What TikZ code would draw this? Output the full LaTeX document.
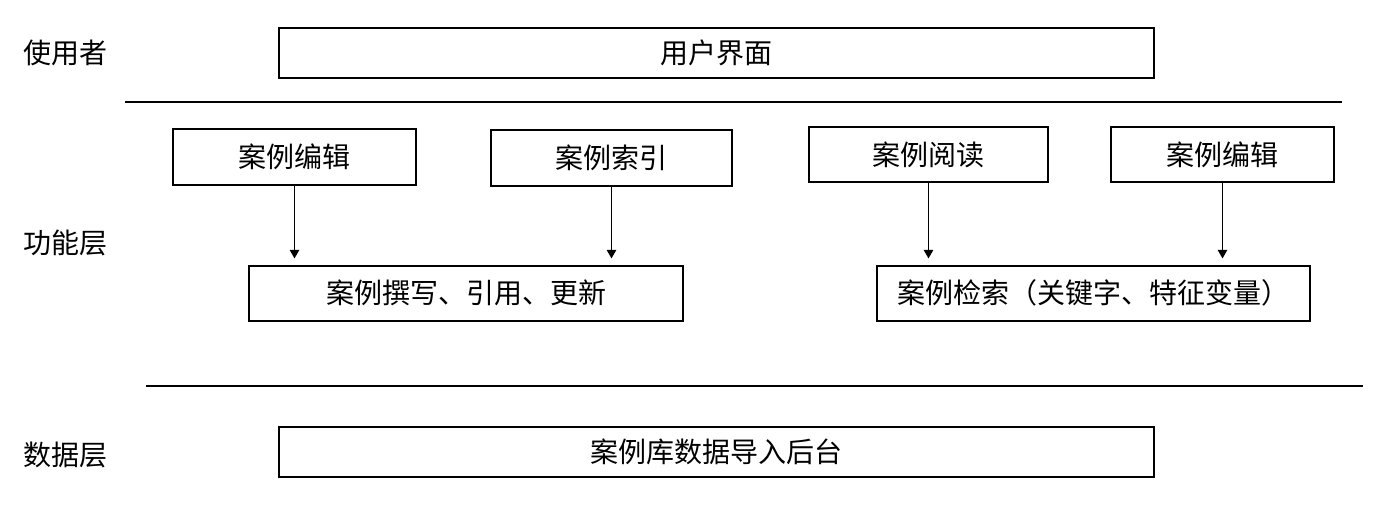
\documentclass[tikz,border=0pt]{standalone}
\usepackage{fontspec}
\setmainfont{Noto Sans CJK SC}
\usetikzlibrary{arrows.meta}
\begin{document}
\begin{tikzpicture}[x=0.75pt,y=-0.75pt,
  box/.style={draw=black,line width=1.5pt,inner sep=0pt,anchor=center,font=\fontsize{21}{25}\selectfont},
  lbl/.style={inner sep=0pt,anchor=west,font=\fontsize{21}{25}\selectfont},
  sep/.style={line width=1.5pt},
  arr/.style={line width=1.4pt,-{Triangle[length=6.5pt,width=7pt]},shorten >=4.5pt}]
\useasboundingbox (0,0) rectangle (1397,517);
\node[lbl] (l1) at (23,53) {使用者};
\node[lbl] (l2) at (23,243) {功能层};
\node[lbl] (l3) at (23,455) {数据层};
\node[box,minimum width=875*0.75pt,minimum height=50*0.75pt] (ui) at (716.5,53) {用户界面};
\coordinate (s1a) at (125,102); \coordinate (s1b) at (1342,102);
\draw[sep] (s1a) -- (s1b);
\node[box,minimum width=243*0.75pt,minimum height=56*0.75pt] (e1) at (294.5,157) {案例编辑};
\node[box,minimum width=241*0.75pt,minimum height=56*0.75pt] (idx) at (611.5,158) {案例索引};
\node[box,minimum width=239*0.75pt,minimum height=55*0.75pt] (rd) at (928.5,154.5) {案例阅读};
\node[box,minimum width=223*0.75pt,minimum height=55*0.75pt] (e2) at (1222.5,154.5) {案例编辑};
\node[box,minimum width=434*0.75pt,minimum height=55*0.75pt] (wr) at (466,293) {案例撰写、引用、更新};
\node[box,minimum width=433*0.75pt,minimum height=55*0.75pt] (ret) at (1093.5,293) {案例检索（关键字、特征变量）};
\draw[arr] (e1.south) -- (e1.south |- wr.north);
\draw[arr] (idx.south) -- (idx.south |- wr.north);
\draw[arr] (rd.south) -- (rd.south |- ret.north);
\draw[arr] (e2.south) -- (e2.south |- ret.north);
\coordinate (s2a) at (146,386); \coordinate (s2b) at (1363,386);
\draw[sep] (s2a) -- (s2b);
\node[box,minimum width=875*0.75pt,minimum height=50*0.75pt] (db) at (716.5,452) {案例库数据导入后台};
\end{tikzpicture}
\end{document}
